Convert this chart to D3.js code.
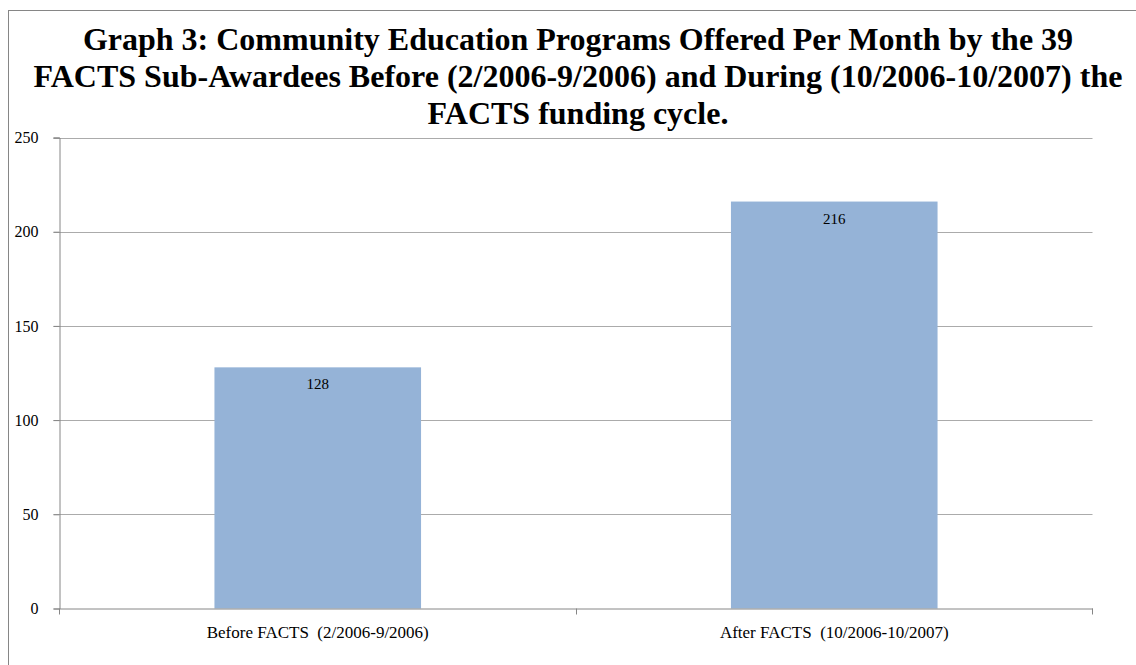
<!DOCTYPE html>
<html>
<head>
<meta charset="utf-8">
<script src="https://cdn.jsdelivr.net/npm/d3@7"></script>
<style>
  html, body { margin: 0; padding: 0; background: #fff; }
  svg { display: block; }
  text { font-family: "Liberation Serif", "Times New Roman", serif; }
</style>
</head>
<body>
<svg id="chart" width="1136" height="665"></svg>
<script>
const titleLines = [
  "Graph 3: Community Education Programs Offered Per Month by the 39",
  "FACTS Sub-Awardees Before (2/2006-9/2006) and During (10/2006-10/2007) the",
  "FACTS funding cycle."
];
const categories = ["Before FACTS  (2/2006-9/2006)", "After FACTS  (10/2006-10/2007)"];
const values = [128, 216];
const yTicks = [0, 50, 100, 150, 200, 250];

const svg = d3.select("#chart");
const margin = {left: 59.5, right: 1092.5, top: 137.5, bottom: 608.5};

// outer border (extends beyond canvas on right/bottom)
svg.append("rect")
  .attr("x", 8.5).attr("y", 10.5)
  .attr("width", 1140).attr("height", 670)
  .attr("fill", "#fff").attr("stroke", "#868686").attr("stroke-width", 1);

// title
const title = svg.append("text")
  .attr("text-anchor", "middle")
  .attr("font-weight", "bold")
  .attr("font-size", 32)
  .attr("fill", "#000");
titleLines.forEach((t, i) => {
  title.append("tspan").attr("x", 578).attr("y", 50 + i * 37).text(t);
});

const x = d3.scaleBand()
  .domain(categories)
  .range([margin.left, margin.right])
  .paddingInner(0.6)
  .paddingOuter(0.3);

const xOuter = d3.scaleBand()
  .domain(categories)
  .range([margin.left, margin.right])
  .padding(0);

const y = d3.scaleLinear()
  .domain([0, 250])
  .range([margin.bottom, margin.top]);

// gridlines
svg.append("g")
  .selectAll("line")
  .data(yTicks.filter(d => d !== 0))
  .join("line")
  .attr("x1", margin.left - 6).attr("x2", margin.right)
  .attr("y1", d => Math.round(y(d)) + 0.5).attr("y2", d => Math.round(y(d)) + 0.5)
  .attr("stroke", "#ababab").attr("stroke-width", 1);

// bars
svg.append("g")
  .selectAll("rect")
  .data(values)
  .join("rect")
  .attr("x", (d, i) => x(categories[i]))
  .attr("width", x.bandwidth())
  .attr("y", d => y(d))
  .attr("height", d => y(0) - y(d))
  .attr("fill", "#95b3d7");

// data labels
svg.append("g")
  .selectAll("text")
  .data(values)
  .join("text")
  .attr("x", (d, i) => x(categories[i]) + x.bandwidth() / 2)
  .attr("y", d => y(d) + 22)
  .attr("text-anchor", "middle")
  .attr("font-size", 15)
  .attr("fill", "#000")
  .text(d => d);

// y axis
const yAxis = svg.append("g")
  .attr("transform", `translate(${margin.left},0)`)
  .call(d3.axisLeft(y).tickValues(yTicks).tickSize(6).tickPadding(15).tickFormat(d3.format("d")));
yAxis.select(".domain").attr("stroke", "#868686");
yAxis.selectAll(".tick line").attr("stroke", "#868686");
yAxis.selectAll(".tick text")
  .attr("font-size", 16).attr("fill", "#000");

// x axis
const xAxis = svg.append("g")
  .attr("transform", `translate(0,${margin.bottom})`)
  .call(d3.axisBottom(xOuter).tickSize(0).tickPadding(17));
xAxis.select(".domain").attr("stroke", "#868686");
xAxis.selectAll(".tick text")
  .attr("font-size", 17).attr("fill", "#000")
  .style("white-space", "pre");

// x boundary tick marks
const bounds = [margin.left, margin.left + xOuter.step(), margin.right];
svg.append("g").selectAll("line").data(bounds).join("line")
  .attr("x1", d => Math.round(d - 0.5) + 0.5).attr("x2", d => Math.round(d - 0.5) + 0.5)
  .attr("y1", margin.bottom).attr("y2", margin.bottom + 6)
  .attr("stroke", "#868686");
</script>
</body>
</html>
